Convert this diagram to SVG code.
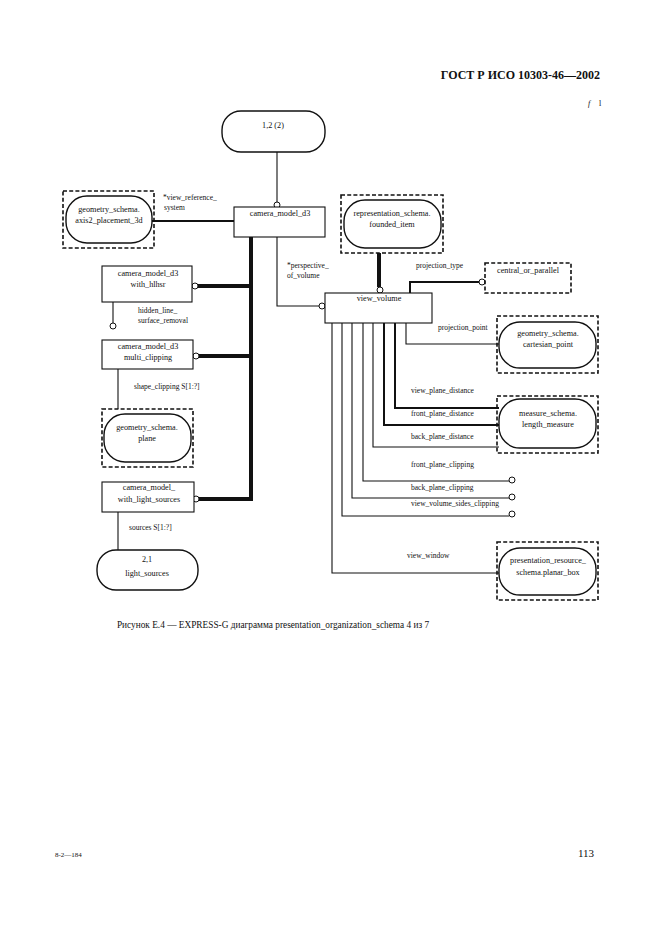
<svg xmlns="http://www.w3.org/2000/svg" width="661" height="936" viewBox="0 0 661 936">
<style>
  text { font-family: "Liberation Serif", "Times New Roman", serif; fill: #111; }
  .n { font-size: 8.2px; text-anchor: middle; }
  .l { font-size: 7.5px; }
  .box { fill: #fff; stroke: #111; stroke-width: 1.1; }
  .pill { fill: #fff; stroke: #111; stroke-width: 1.4; }
  .dash { fill: none; stroke: #111; stroke-width: 1.6; stroke-dasharray: 4 2.2; }
  .c { fill: none; stroke: #111; stroke-width: 1.1; }
  .cm { fill: none; stroke: #111; stroke-width: 2; }
  .ct { fill: none; stroke: #111; stroke-width: 4; }
  .o { fill: #fff; stroke: #111; stroke-width: 1; }
</style>
<rect width="661" height="936" fill="#fff"/>
<text x="600" y="79" style="font-size:12px;font-weight:bold;text-anchor:end">ГОСТ Р ИСО 10303-46—2002</text>
<text x="588" y="106" style="font-size:8px;font-style:italic">f</text>
<text x="599" y="106" style="font-size:8px">l</text>

<g id="connectors">
  <path class="c" d="M277,152 V202"/>
  <circle class="o" cx="277" cy="205" r="3"/>
  <path class="cm" d="M152,221 H234"/>
  <path class="ct" d="M251,237 V501"/>
  <path class="ct" d="M198,286 H253"/>
  <circle class="o" cx="195" cy="286" r="3"/>
  <path class="ct" d="M199,356 H253"/>
  <circle class="o" cx="196" cy="356" r="3"/>
  <path class="ct" d="M199,499 H253"/>
  <circle class="o" cx="196" cy="499" r="3"/>
  <path class="c" d="M113,302 V323"/>
  <circle class="o" cx="113" cy="326" r="3"/>
  <path class="c" d="M118,369 V409"/>
  <path class="c" d="M118,512 V550"/>
  <path class="c" d="M277,237 V306 H319"/>
  <circle class="o" cx="322" cy="306" r="3"/>
  <path class="ct" d="M379,253 V287"/>
  <circle class="o" cx="380" cy="290" r="3"/>
  <path class="cm" d="M410,293 V282 H479"/>
  <circle class="o" cx="482" cy="282" r="3"/>
  <path class="c" d="M406,323 V344 H499"/>
  <path class="cm" d="M395,323 V408 H499"/>
  <path class="cm" d="M384,323 V425 H499"/>
  <path class="c" d="M373,323 V447 H499"/>
  <path class="c" d="M363,323 V481 H509"/>
  <circle class="o" cx="512" cy="480" r="3"/>
  <path class="c" d="M352,323 V498 H509"/>
  <circle class="o" cx="512" cy="497" r="3"/>
  <path class="c" d="M342,323 V516 H509"/>
  <circle class="o" cx="512" cy="514" r="3"/>
  <path class="c" d="M332,323 V573 H499"/>
  <text class="l" x="163" y="200">*view_reference_</text>
  <text class="l" x="164" y="210">system</text>
  <text class="l" x="287" y="268">*perspective_</text>
  <text class="l" x="287" y="278">of_volume</text>
  <text class="l" x="416" y="268">projection_type</text>
  <text class="l" x="438" y="330">projection_point</text>
  <text class="l" x="411" y="393">view_plane_distance</text>
  <text class="l" x="411" y="416">front_plane_distance</text>
  <text class="l" x="411" y="439">back_plane_distance</text>
  <text class="l" x="411" y="467">front_plane_clipping</text>
  <text class="l" x="411" y="490">back_plane_clipping</text>
  <text class="l" x="411" y="506">view_volume_sides_clipping</text>
  <text class="l" x="407" y="558">view_window</text>
  <text class="l" x="138" y="313">hidden_line_</text>
  <text class="l" x="138" y="323">surface_removal</text>
  <text class="l" x="134" y="389">shape_clipping S[1:?]</text>
  <text class="l" x="129" y="530">sources S[1:?]</text>
</g>

<g id="n_1_2">
  <rect class="pill" x="222" y="111" width="103" height="41" rx="19"/>
  <text class="n" x="273" y="128">1,2 (2)</text>
</g>
<g id="camera_model_d3">
  <rect class="box" x="234" y="207" width="91" height="30"/>
  <text class="n" x="280" y="216">camera_model_d3</text>
</g>
<g id="axis2_placement_3d">
  <rect class="dash" x="63" y="191" width="91" height="57"/>
  <rect class="pill" x="66" y="196" width="86" height="47" rx="21"/>
  <text class="n" x="109" y="212">geometry_schema.</text>
  <text class="n" x="109" y="223">axis2_placement_3d</text>
</g>
<g id="founded_item">
  <rect class="dash" x="341" y="195" width="102" height="58"/>
  <rect class="pill" x="344" y="200" width="97" height="48" rx="21"/>
  <text class="n" x="392" y="216">representation_schema.</text>
  <text class="n" x="392" y="227">founded_item</text>
</g>
<g id="central_or_parallel">
  <rect class="dash" x="485" y="263" width="86" height="30"/>
  <text class="n" x="528" y="273">central_or_parallel</text>
</g>
<g id="view_volume">
  <rect class="box" x="325" y="293" width="107" height="30"/>
  <text class="n" x="379" y="301">view_volume</text>
</g>
<g id="cartesian_point">
  <rect class="dash" x="497" y="316" width="101" height="57"/>
  <rect class="pill" x="499" y="322" width="97" height="46" rx="21"/>
  <text class="n" x="548" y="336">geometry_schema.</text>
  <text class="n" x="548" y="347">cartesian_point</text>
</g>
<g id="length_measure">
  <rect class="dash" x="497" y="396" width="101" height="57"/>
  <rect class="pill" x="499" y="399" width="97" height="49" rx="21"/>
  <text class="n" x="548" y="416">measure_schema.</text>
  <text class="n" x="548" y="427">length_measure</text>
</g>
<g id="planar_box">
  <rect class="dash" x="497" y="542" width="101" height="58"/>
  <rect class="pill" x="499" y="548" width="97" height="47" rx="21"/>
  <text class="n" x="548" y="563">presentation_resource_</text>
  <text class="n" x="548" y="575">schema.planar_box</text>
</g>
<g id="with_hlhsr">
  <rect class="box" x="102" y="266" width="90" height="36"/>
  <text class="n" x="148" y="276">camera_model_d3</text>
  <text class="n" x="148" y="287">with_hlhsr</text>
</g>
<g id="multi_clipping">
  <rect class="box" x="102" y="340" width="91" height="29"/>
  <text class="n" x="148" y="349">camera_model_d3</text>
  <text class="n" x="148" y="360">multi_clipping</text>
</g>
<g id="plane">
  <rect class="dash" x="102" y="409" width="91" height="58"/>
  <rect class="pill" x="104" y="414" width="87" height="48" rx="21"/>
  <text class="n" x="147" y="430">geometry_schema.</text>
  <text class="n" x="147" y="441">plane</text>
</g>
<g id="with_light_sources">
  <rect class="box" x="102" y="482" width="92" height="30"/>
  <text class="n" x="149" y="490">camera_model_</text>
  <text class="n" x="149" y="502">with_light_sources</text>
</g>
<g id="light_sources">
  <rect class="pill" x="97" y="550" width="101" height="40" rx="19"/>
  <text class="n" x="147" y="562">2,1</text>
  <text class="n" x="147" y="576">light_sources</text>
</g>

<text x="273" y="628" style="font-size:9.3px;text-anchor:middle">Рисунок Е.4 — EXPRESS-G диаграмма presentation_organization_schema 4 из 7</text>
<text x="55" y="857" style="font-size:7px">8-2—184</text>
<text x="594" y="857" style="font-size:11px;text-anchor:end">113</text>
</svg>
